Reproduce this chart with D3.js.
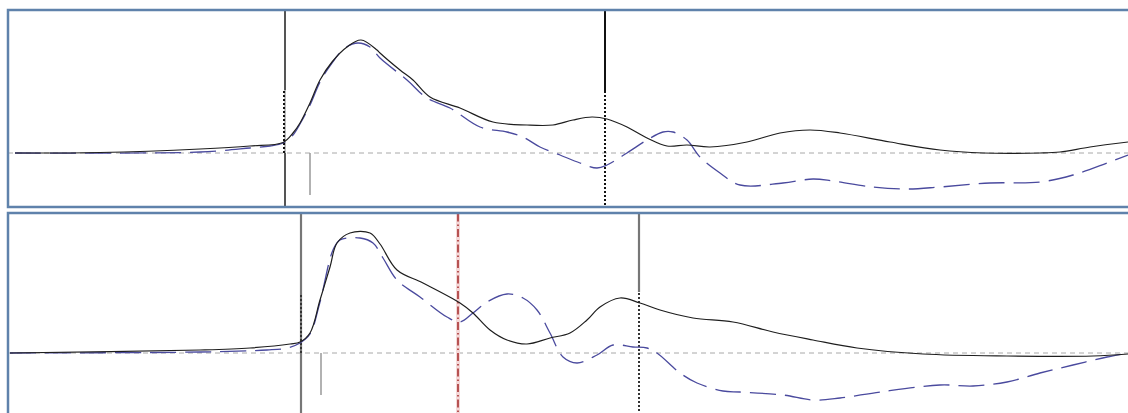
<!DOCTYPE html>
<html>
<head>
<meta charset="utf-8">
<script src="https://cdn.jsdelivr.net/npm/d3@7"></script>
<style>
  html, body { margin: 0; padding: 0; background: #fff; }
  svg { display: block; }
</style>
</head>
<body>
<svg id="chart" width="1128" height="413"></svg>
<script>
// Time axis in ms relative to stimulus onset; amplitude in arbitrary units (0 = baseline)
const timeDomain = [-277, 843];

// Upper trace pair
const topTime      = [-270, -185, -85, -35, -2, 8, 15, 25, 35, 47, 62, 76, 92, 95, 115, 128, 145, 175, 208, 242, 268, 288, 307, 322, 342, 362, 382, 402, 425, 462, 495, 525, 555, 605, 655, 698, 755, 775, 805, 843];
const topSolid     = [0, 0.5, 4, 7, 10.5, 20, 30, 50, 73, 91, 106, 113, 103, 100, 83, 73, 56, 45, 31, 28, 28, 33, 36, 34, 26, 15, 7, 8, 6, 11, 20, 23, 20, 11, 3, 0, 0, 1, 6, 11];

const topDashTime  = [-270, -85, -35, -15, -2, 8, 15, 25, 35, 47, 60, 73, 85, 95, 122, 142, 165, 195, 222, 238, 255, 275, 295, 312, 322, 342, 362, 378, 388, 402, 415, 435, 455, 498, 528, 548, 588, 622, 655, 705, 755, 788, 822, 843];
const topDashed    = [0, 1, 5, 7, 10, 18, 29, 48, 71, 90, 105, 110, 106, 95, 73, 55, 45, 26, 21, 16, 6, -2, -10, -15, -12, 0, 13, 21, 21, 13, -4, -20, -32, -30, -26, -28, -34, -36, -34, -30, -29, -22, -10, -2];

// Lower trace pair
const botTime      = [-275, -85, -35, 5, 15, 25, 35, 45, 52, 65, 85, 95, 112, 138, 175, 188, 205, 222, 242, 265, 285, 302, 315, 335, 355, 375, 408, 448, 488, 528, 572, 638, 722, 808, 843];
const botSolid     = [0, 3, 5, 9, 11, 20, 53, 86, 110, 120, 120, 109, 83, 70, 50, 40, 23, 13, 9, 15, 20, 33, 46, 55, 50, 43, 35, 31, 21, 13, 5, -1, -3, -3, -1];

const botDashTime  = [-275, -85, -18, 2, 15, 25, 35, 48, 55, 75, 88, 98, 112, 135, 162, 175, 188, 202, 222, 238, 252, 265, 278, 292, 312, 328, 348, 362, 372, 395, 412, 438, 455, 498, 528, 555, 595, 655, 688, 722, 755, 788, 822, 843];
const botDashed    = [0, 1, 3, 5, 10, 19, 51, 103, 113, 115, 110, 95, 73, 56, 36, 31, 40, 51, 59, 55, 43, 20, -4, -10, -2, 8, 6, 5, 0, -20, -30, -38, -39, -42, -47, -45, -39, -32, -33, -29, -20, -12, -4, 0];

// Event markers (ms)
const topMarkers   = [0, 320];
const topTick      = 25;
const botMarkers   = [16, 354];
const botRedMarker = 173;
const botTick      = 36;

const svg = d3.select("#chart");
const W = 1128;

const x = d3.scaleLinear().domain(timeDomain).range([8, W]);

function zip(t, v) { return t.map((d, i) => ({ t: d, v: v[i] })); }

function panel(opts) {
  const { top, bottom, yDomain, id } = opts;
  const y = d3.scaleLinear().domain(yDomain).range([bottom, top]);
  const g = svg.append("g");

  g.append("clipPath").attr("id", id)
    .append("rect").attr("x", 9).attr("y", top).attr("width", W).attr("height", bottom - top);

  const body = g.append("g").attr("clip-path", `url(#${id})`);

  // baseline
  body.append("line")
    .attr("x1", x(timeDomain[0])).attr("x2", x(timeDomain[1]))
    .attr("y1", y(0)).attr("y2", y(0))
    .attr("stroke", "#a8a8a8").attr("stroke-width", 1)
    .attr("stroke-dasharray", "5,4");

  opts.drawMarkers(body, y);

  const line = d3.line().x(d => x(d.t)).y(d => y(d.v)).curve(d3.curveCatmullRom.alpha(0.5));

  body.append("path").datum(zip(opts.dashT, opts.dashV))
    .attr("d", line).attr("fill", "none")
    .attr("stroke", "#4a4a9e").attr("stroke-width", 1.3)
    .attr("stroke-dasharray", "26,9");

  body.append("path").datum(zip(opts.solidT, opts.solidV))
    .attr("d", line).attr("fill", "none")
    .attr("stroke", "#1e1e1e").attr("stroke-width", 1.2);

  // frame
  g.append("rect")
    .attr("x", 8).attr("y", top)
    .attr("width", W + 10).attr("height", opts.frameH)
    .attr("fill", "none").attr("stroke", "#5f82ab").attr("stroke-width", 2.5);
}

function vline(sel, t, y, v0, v1, color, width, dash, dx) {
  const px = x(t) + (dx || 0);
  const l = sel.append("line")
    .attr("x1", px).attr("x2", px)
    .attr("y1", y(v0)).attr("y2", y(v1))
    .attr("stroke", color).attr("stroke-width", width);
  if (dash) l.attr("stroke-dasharray", dash);
  return l;
}

// upper panel
panel({
  id: "clipTop", top: 10, bottom: 207, frameH: 197,
  yDomain: [-54, 143],
  solidT: topTime, solidV: topSolid, dashT: topDashTime, dashV: topDashed,
  drawMarkers: (s, y) => {
    vline(s, topMarkers[0], y, 63, 150, "#555", 2);
    vline(s, topMarkers[0], y, -60, 0, "#555", 2);
    vline(s, topMarkers[0], y, 0, 63, "#777", 1);
    vline(s, topMarkers[0], y, 0, 63, "#111", 2, "2,2", -1);
    vline(s, topMarkers[1], y, 61, 150, "#111", 2);
    vline(s, topMarkers[1], y, -60, 61, "#111", 2, "2,2");
    vline(s, topTick, y, 0, -42, "#999", 1.5);
  }
});

// lower panel
panel({
  id: "clipBot", top: 213, bottom: 413, frameH: 220,
  yDomain: [-60, 140],
  solidT: botTime, solidV: botSolid, dashT: botDashTime, dashV: botDashed,
  drawMarkers: (s, y) => {
    vline(s, botMarkers[0], y, -70, 150, "#777", 2.2);
    vline(s, botMarkers[0], y, 0, 58, "#333", 2, "2,2");
    vline(s, botRedMarker, y, -70, 150, "#f4d8d8", 4);
    vline(s, botRedMarker, y, -70, 150, "#a83232", 1.6, "8,3,1.5,3");
    vline(s, botMarkers[1], y, 61, 150, "#777", 2.2);
    vline(s, botMarkers[1], y, -70, 61, "#333", 2, "2,2");
    vline(s, botTick, y, 0, -42, "#999", 1.5);
  }
});
</script>
</body>
</html>
